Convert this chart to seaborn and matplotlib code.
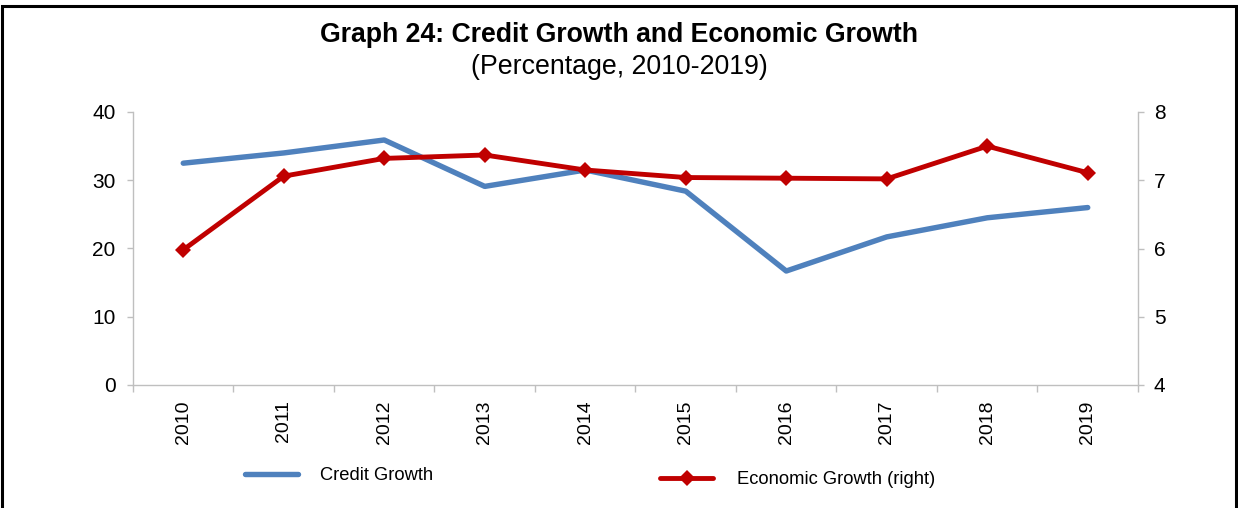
import matplotlib
matplotlib.use("Agg")
import matplotlib.pyplot as plt
from matplotlib.patches import Rectangle
from matplotlib.ticker import FixedLocator
import seaborn as sns
import pandas as pd

# Annual series, 2010-2019 (percent)
years = [2010, 2011, 2012, 2013, 2014, 2015, 2016, 2017, 2018, 2019]
credit_growth = [32.5, 34.0, 35.9, 29.1, 31.5, 28.4, 16.7, 21.7, 24.5, 26.0]
economic_growth = [5.98, 7.06, 7.32, 7.37, 7.15, 7.04, 7.03, 7.02, 7.50, 7.11]

title = "Graph 24: Credit Growth and Economic Growth"
subtitle = "(Percentage, 2010-2019)"
credit_label = "Credit Growth"
econ_label = "Economic Growth (right)"

df = pd.DataFrame({"year": years, "credit": credit_growth, "econ": economic_growth})

sns.set_theme(style="white")
plt.rcParams["font.family"] = ["Liberation Sans", "DejaVu Sans"]

BLUE = "#4F81BD"
RED = "#C00000"
GREY = "#BFBFBF"

fig = plt.figure(figsize=(12.38, 5.08), dpi=100)
ax = fig.add_axes([133 / 1238, 1 - 385 / 508, (1138 - 133) / 1238, (385 - 112) / 508])
ax2 = ax.twinx()

sns.lineplot(data=df, x="year", y="credit", ax=ax, color=BLUE, linewidth=3.9,
             solid_capstyle="round", label=credit_label, legend=False)
sns.lineplot(data=df, x="year", y="econ", ax=ax2, color=RED, linewidth=3.5,
             marker="D", markersize=8, markeredgewidth=0, label=econ_label,
             legend=False)

ax.set_xlim(years[0] - 0.5, years[-1] + 0.5)
ax.set_ylim(0, 40)
ax2.set_ylim(4, 8)
ax.set_yticks([0, 10, 20, 30, 40])
ax2.set_yticks([4, 5, 6, 7, 8])
ax.set_xticks(years)
ax.set_xticklabels([str(y) for y in years], rotation=90)
ax.xaxis.set_minor_locator(FixedLocator([y - 0.5 for y in years] + [years[-1] + 0.5]))

for a in (ax, ax2):
    a.set_xlabel("")
    a.set_ylabel("")
    a.grid(False)
    for side, sp in a.spines.items():
        sp.set_color(GREY)
        sp.set_linewidth(1.0)
    a.spines["top"].set_visible(False)

ax.spines["right"].set_visible(False)
ax2.spines["left"].set_visible(False)
ax2.spines["bottom"].set_visible(False)

ax.tick_params(axis="x", which="major", length=0, pad=11, labelsize=14, colors="black")
ax.tick_params(axis="x", which="minor", bottom=True, length=5, width=1, color=GREY, direction="out")
ax.tick_params(axis="y", left=True, length=4.5, width=1, color=GREY, direction="out",
               pad=8, labelsize=15, labelcolor="black")
ax2.tick_params(axis="y", right=True, length=4.5, width=1, color=GREY, direction="out",
                pad=7, labelsize=15, labelcolor="black")

# Title block
fig.text(0.5, 1 - 35 / 508, title, ha="center", va="center", fontsize=19.2,
         fontweight="bold", color="black")
fig.text(0.5, 1 - 67 / 508, subtitle, ha="center", va="center", fontsize=19.3,
         color="black")

# Legend entries placed under the axes
h1, l1 = ax.get_legend_handles_labels()
h2, l2 = ax2.get_legend_handles_labels()
leg1 = fig.legend(h1, l1, loc="center left", bbox_to_anchor=(245 / 1238, 1 - 476 / 508),
                  frameon=False, fontsize=13.2, handlelength=2.9, handletextpad=1.2,
                  borderpad=0, borderaxespad=0)
leg2 = fig.legend(h2, l2, loc="center left", bbox_to_anchor=(660 / 1238, 1 - 480 / 508),
                  frameon=False, fontsize=13.2, handlelength=2.9, handletextpad=1.3,
                  borderpad=0, borderaxespad=0)
for leg in (leg1, leg2):
    for t in leg.get_texts():
        t.set_color("black")

# Outer frame
fig.add_artist(Rectangle((2 / 1238, -0.05), 1 - 4 / 1238, 1.05 - 6 / 508,
                         transform=fig.transFigure, fill=False,
                         edgecolor="black", linewidth=2.2))

fig.savefig("out.png", dpi=100)
